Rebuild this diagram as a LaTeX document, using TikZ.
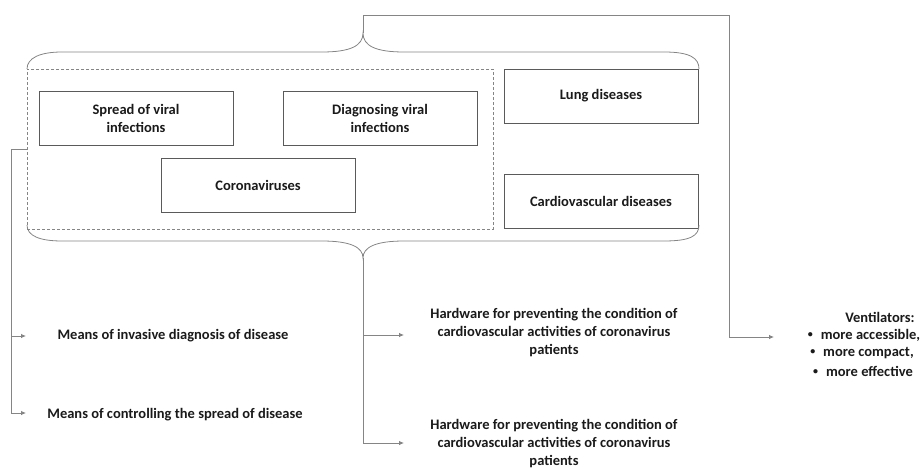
\documentclass[tikz,border=0pt]{standalone}
\usepackage{fontspec}
\setmainfont{Carlito}
\usetikzlibrary{arrows.meta}
\definecolor{linegray}{HTML}{858585}
\definecolor{boxgray}{HTML}{5A5A5A}
\definecolor{inkgray}{HTML}{1A1A1A}
\newcommand{\ventbullet}{\raisebox{1.6pt}{\fontsize{10}{10}\selectfont\textbullet}\hspace{8pt}}

\begin{document}
\begin{tikzpicture}[x=1pt,y=-1pt,
  font=\bfseries\fontsize{14.5}{18}\selectfont,text=inkgray,
  topicbox/.style={draw=boxgray,semithick,minimum width=194pt,minimum height=54pt,align=center,inner sep=2pt},
  groupbox/.style={draw=linegray,thick,dash pattern=on 3pt off 2pt,minimum width=466pt,minimum height=160pt,inner sep=0pt},
  link/.style={draw=linegray,thick,-{Latex[length=5pt,width=4.5pt]}},
  brace/.style={draw=linegray,thick}]
\useasboundingbox (0,0) rectangle (920,468);
\node[groupbox] (viral) at (260,149) {};
\node[topicbox] (spread) at (136,118) {Spread of viral\\infections};
\node[topicbox] (diag) at (380,118) {Diagnosing viral\\infections};
\node[topicbox] (corona) at (258,185) {Coronaviruses};
\node[topicbox] (lung) at (601,96) {Lung diseases};
\node[topicbox] (cardio) at (601,201) {Cardiovascular diseases};
% braces round the whole group
\draw[brace] (27,69) .. controls (27,58) and (40,52) .. (62,52) -- (322,52)
  .. controls (350,52) and (363,46) .. (363,33) coordinate (toptip)
  .. controls (363,46) and (376,52) .. (404,52) -- (664,52)
  .. controls (690,52) and (699,58) .. (699,69);
\draw[brace] (27,225) .. controls (27,236) and (40,241) .. (62,241) -- (322,241)
  .. controls (350,241) and (363,247) .. (363,258) coordinate (bottip)
  .. controls (363,247) and (376,241) .. (404,241) -- (664,241)
  .. controls (690,241) and (699,236) .. (699,225);
% outcomes
\coordinate (invend) at (26,336);
\coordinate (ctrlend) at (26,413);
\coordinate (hwaend) at (404,335);
\coordinate (hwbend) at (404,443);
\coordinate (ventend) at (774,337);
\node[align=center] (invasive) at (173,336) {Means of invasive diagnosis of disease};
\node[align=center] (control) at (175,415) {Means of controlling the spread of disease};
\node[align=center] (hwa) at (554,333) {Hardware for preventing the condition of\\cardiovascular activities of coronavirus\\patients};
\node[align=center] (hwb) at (554,444) {Hardware for preventing the condition of\\cardiovascular activities of coronavirus\\patients};
\node (vent) at (880,317) {Ventilators:};
\node (venta) at (864,335) {\ventbullet more accessible,};
\node (ventb) at (862,353) {\ventbullet more compact,};
\node (ventc) at (863,371) {\ventbullet more effective};
\draw[link] (viral.west) -- ++(-15,0) |- (invend);
\draw[link] (viral.west) -- ++(-15,0) |- (ctrlend);
\draw[link] (bottip) |- (hwaend);
\draw[link] (bottip) |- (hwbend);
\draw[link] (toptip) |- (729,15) |- (ventend);
\end{tikzpicture}
\end{document}
